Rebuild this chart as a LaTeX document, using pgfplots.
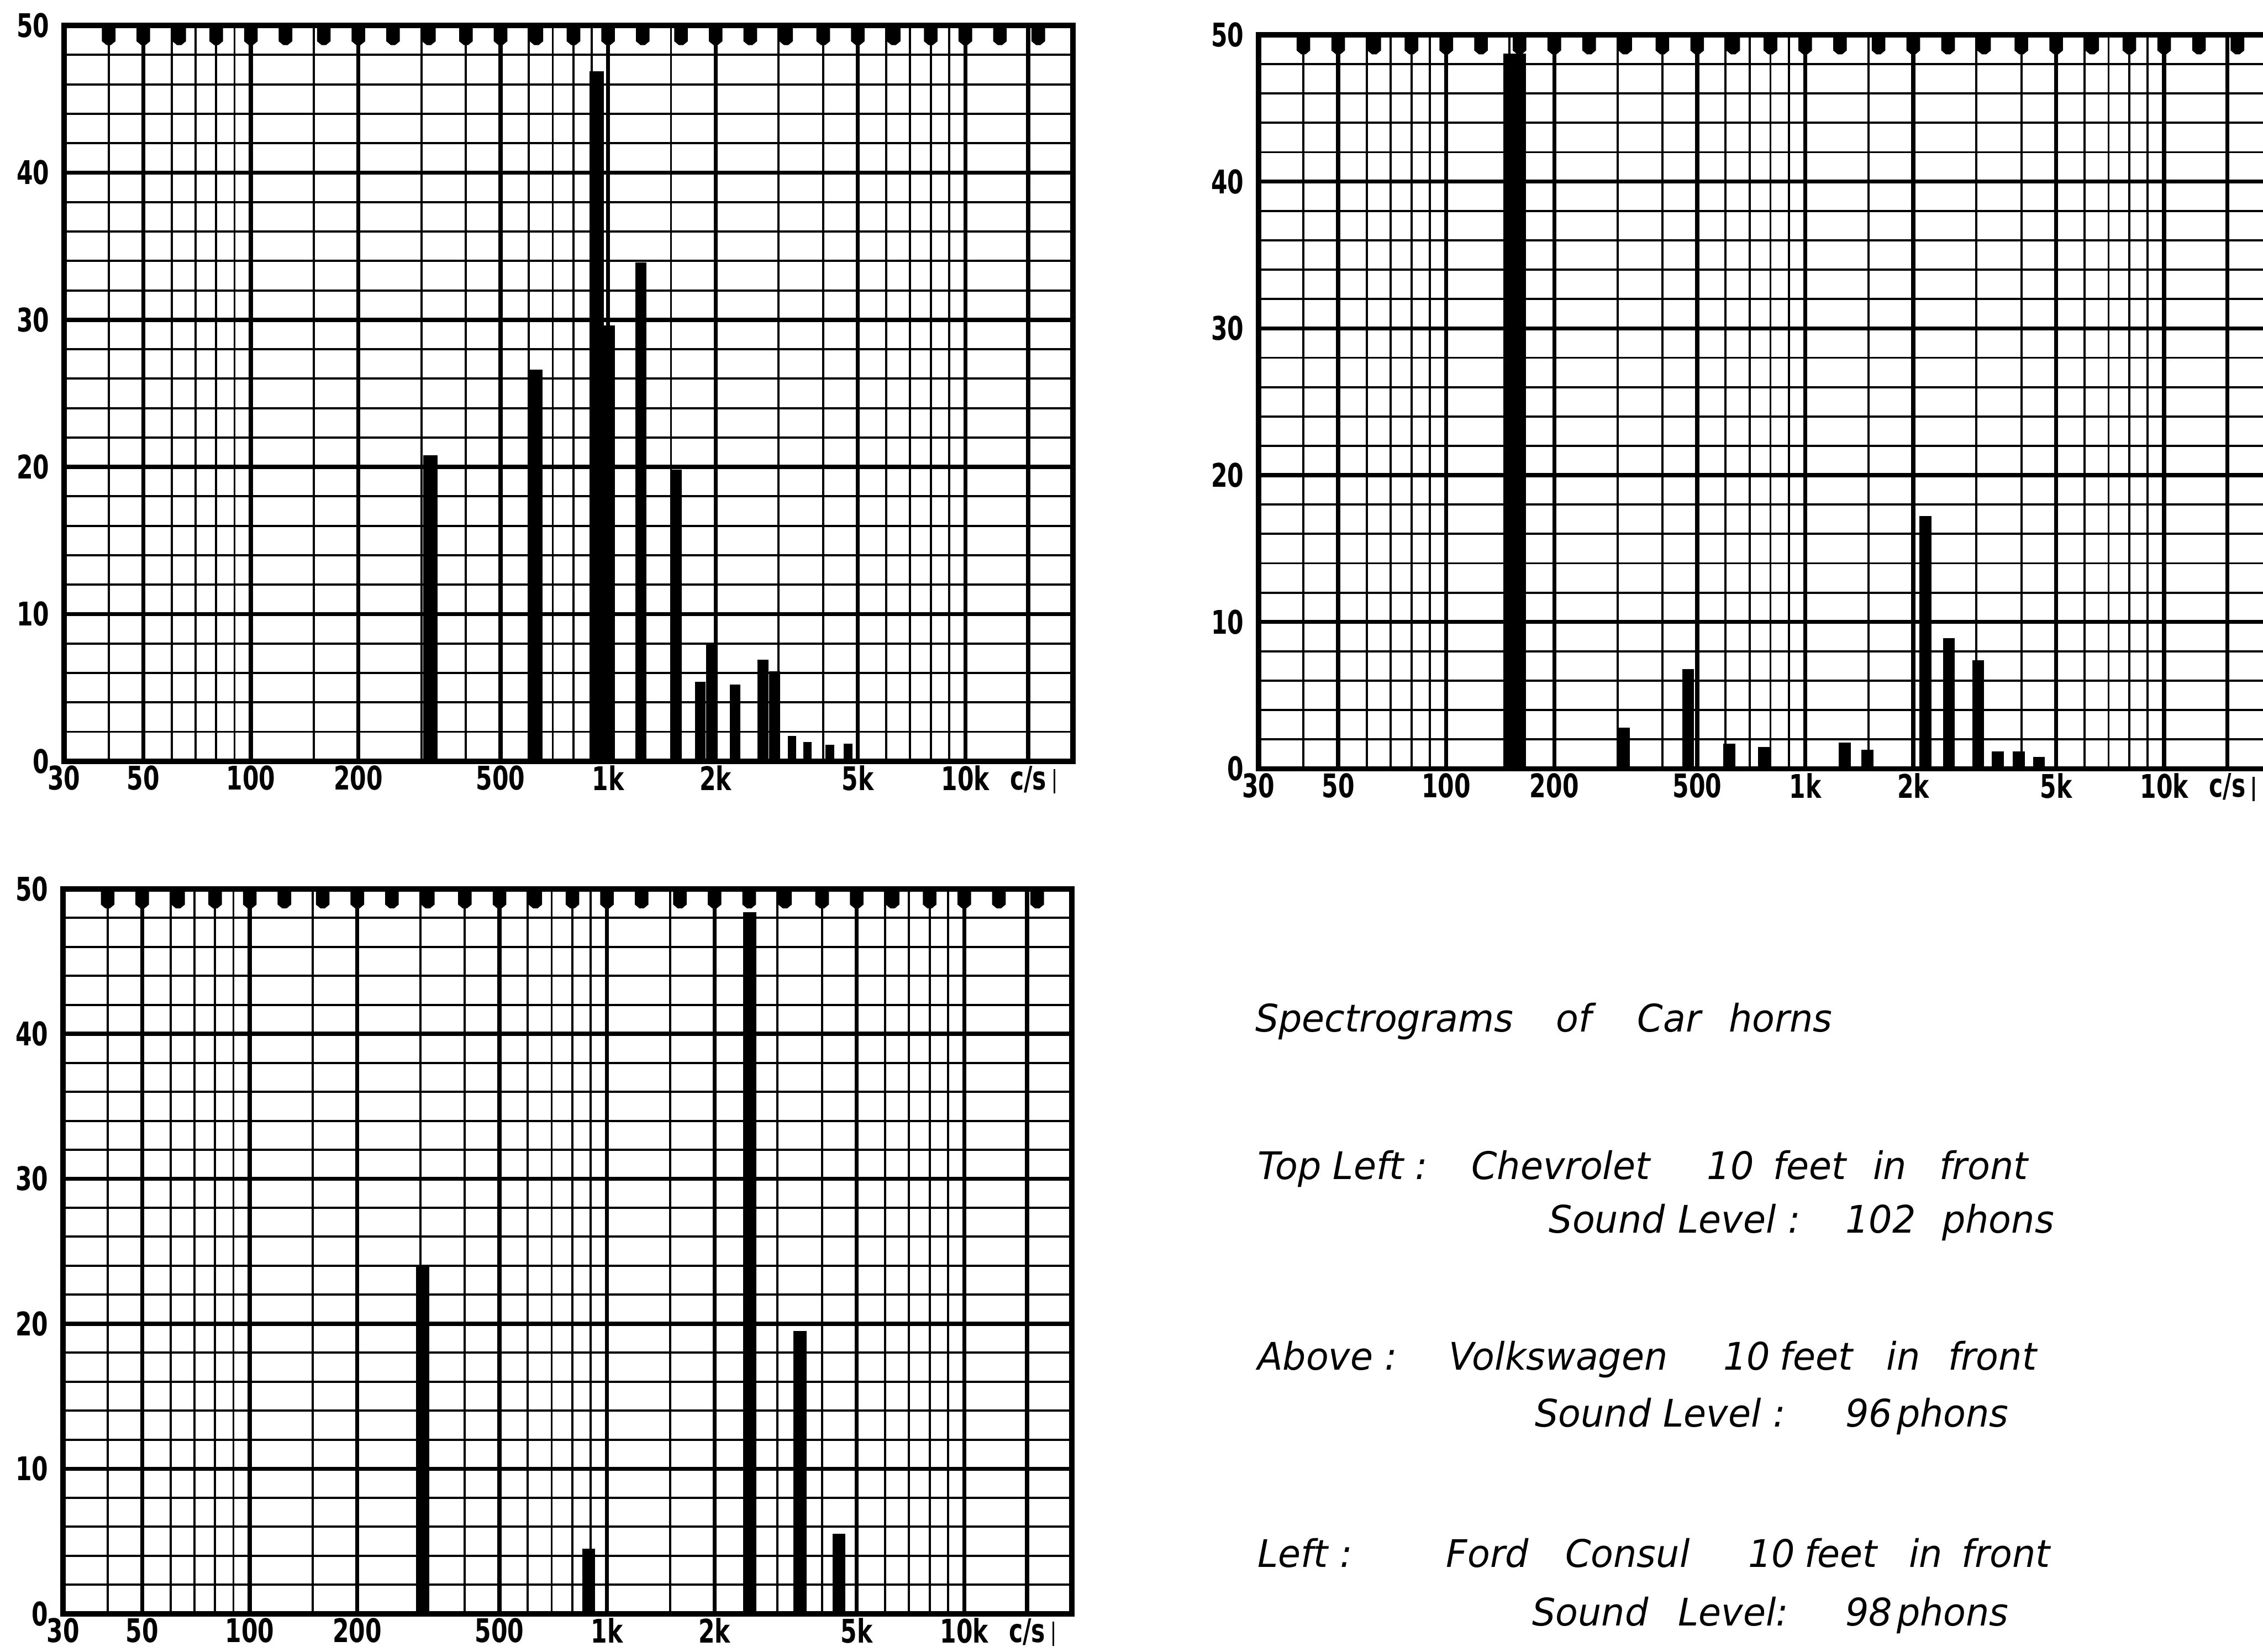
\documentclass[border=0pt]{standalone}
\usepackage{fontspec}
\setmainfont{DejaVu Sans}
\newfontfamily\tickfont[FakeStretch=0.72]{DejaVu Sans}
\newfontfamily\letterfont[FakeStretch=0.97]{DejaVu Sans}
\usepackage{pgfplots}
\pgfplotsset{compat=1.18}

% notch hanging from the top border at each third-octave centre
\pgfdeclareplotmark{notch}{%
  \pgfpathmoveto{\pgfqpoint{-2.5pt}{0pt}}%
  \pgfpathlineto{\pgfqpoint{-2.5pt}{-5.8pt}}%
  \pgfpathlineto{\pgfqpoint{-0.8pt}{-7.2pt}}%
  \pgfpathlineto{\pgfqpoint{0.8pt}{-7.2pt}}%
  \pgfpathlineto{\pgfqpoint{2.5pt}{-5.8pt}}%
  \pgfpathlineto{\pgfqpoint{2.5pt}{0pt}}%
  \pgfpathclose
  \pgfusepathqfill}

\newcommand{\cps}{c/s\rlap{\hspace{2.6pt}\rule[-1.5pt]{0.7pt}{9pt}}}

\pgfplotsset{
  every axis/.append style={
    scale only axis,
    xmin=30, xmax=20000, ymin=0, ymax=50,
    xtick={30,50,100,200,500,1000,2000,5000,10000,15000},
    xticklabels={30,50,100,200,500,1k,2k,5k,10k,\cps},
    minor xtick={40,60,70,80,90,150,300,400,600,700,800,900,1500,3000,4000,6000,7000,8000,9000},
    ytick={0,10,20,30,40,50}, yticklabels={0,10,20,30,40,50},
    minor ytick={2,4,6,8,12,14,16,18,22,24,26,28,32,34,36,38,42,44,46,48},
    grid=both,
    major grid style={line width=1.5pt, black},
    minor grid style={line width=0.8pt, black},
    axis line style={line width=2pt},
    major tick length=0pt, minor tick length=0pt,
    tick label style={font=\tickfont\bfseries\fontsize{12}{13}\selectfont},
    xticklabel style={inner sep=0pt, yshift=-1.5pt},
    yticklabel style={inner sep=0pt, xshift=-5.2pt},
  },
}

\pgfplotstableread{
f v
40 50
50 50
63 50
80 50
100 50
125 50
160 50
200 50
250 50
315 50
400 50
500 50
630 50
800 50
1000 50
1250 50
1600 50
2000 50
2500 50
3150 50
4000 50
5000 50
6300 50
8000 50
10000 50
12500 50
16000 50
}\notches

% Chevrolet
\pgfplotstableread{
f v
318 20.8
627 26.6
929 46.9
1000 29.6
}\chevA
\pgfplotstableread{
f v
1236 33.9
1554 19.8
1812 5.4
1946 7.9
2268 5.2
2713 6.9
2925 6.1
}\chevB
\pgfplotstableread{
f v
3270 1.7
3613 1.3
4180 1.1
4690 1.2
}\chevC

% Volkswagen
\pgfplotstableread{
f v
155 48.7
}\vwA
\pgfplotstableread{
f v
312 2.8
472 6.8
614 1.7
768 1.5
1288 1.8
1490 1.3
2163 17.2
2515 8.9
3033 7.4
3436 1.2
3938 1.2
4480 0.8
}\vwB

% Ford Consul
\pgfplotstableread{
f v
305 24.0
888 4.5
2507 48.4
3471 19.5
4456 5.5
}\ford

\begin{document}
\begin{tikzpicture}
\useasboundingbox (0,0) rectangle (833.6pt,608.4pt);

% top left: Chevrolet
\begin{semilogxaxis}[width=371.6pt, height=271pt, at={(23.6pt,328pt)}, anchor=south west]
\addplot[ycomb, black, mark=none, line width=5.2pt] table[x=f, y=v] {\chevA};
\addplot[ycomb, black, mark=none, line width=4pt] table[x=f, y=v] {\chevB};
\addplot[ycomb, black, mark=none, line width=3.2pt] table[x=f, y=v] {\chevC};
\addplot[only marks, mark=notch, black] table[x=f, y=v] {\notches};
\end{semilogxaxis}

% top right: Volkswagen
\begin{semilogxaxis}[width=373.4pt, height=270.4pt, at={(463.6pt,325.2pt)}, anchor=south west]
\addplot[ycomb, black, mark=none, line width=8.4pt] table[x=f, y=v] {\vwA};
\addplot[ycomb, black, mark=none, line width=4.4pt] table[x=f, y=v] {\vwB};
\addplot[only marks, mark=notch, black] table[x=f, y=v] {\notches};
\end{semilogxaxis}

% bottom left: Ford Consul
\begin{semilogxaxis}[width=371.6pt, height=267pt, at={(23.2pt,14pt)}, anchor=south west]
\addplot[ycomb, black, mark=none, line width=4.8pt] table[x=f, y=v] {\ford};
\addplot[only marks, mark=notch, black] table[x=f, y=v] {\notches};
\end{semilogxaxis}

\begin{scope}[every node/.style={anchor=base west, inner sep=0pt,
    font=\letterfont\itshape\fontsize{14}{16}\selectfont}]
\node at (462.2pt,228.4pt) {Spectrograms};
\node at (573pt,228.4pt) {of};
\node at (603pt,228.4pt) {Car};
\node at (636.6pt,228.4pt) {horns};
% Chevrolet
\node at (463pt,174pt) {Top Left :};
\node at (541.8pt,174pt) {Chevrolet};
\node at (628.6pt,174pt) {10};
\node at (653pt,174pt) {feet};
\node at (689.8pt,174pt) {in};
\node at (714.2pt,174pt) {front};
\node at (570.4pt,154.2pt) {Sound};
\node at (618pt,154.2pt) {Level :};
\node at (679.6pt,154.2pt) {102};
\node at (715.2pt,154.2pt) {phons};
% Volkswagen
\node at (463pt,103.8pt) {Above :};
\node at (533.6pt,103.8pt) {Volkswagen};
\node at (634.6pt,103.8pt) {10};
\node at (655.5pt,103.8pt) {feet};
\node at (694.8pt,103.8pt) {in};
\node at (717.4pt,103.8pt) {front};
\node at (565.2pt,82.8pt) {Sound};
\node at (612.5pt,82.8pt) {Level :};
\node at (679.6pt,82.8pt) {96};
\node at (698.5pt,82.8pt) {phons};
% Ford Consul
\node at (463pt,31.2pt) {Left :};
\node at (532.6pt,31.2pt) {Ford};
\node at (576.4pt,31.2pt) {Consul};
\node at (643.8pt,31.2pt) {10};
\node at (664.5pt,31.2pt) {feet};
\node at (703pt,31.2pt) {in};
\node at (722.4pt,31.2pt) {front};
\node at (564.2pt,9.6pt) {Sound};
\node at (618pt,9.6pt) {Level:};
\node at (679.6pt,9.6pt) {98};
\node at (698.5pt,9.6pt) {phons};
\end{scope}
\end{tikzpicture}
\end{document}
